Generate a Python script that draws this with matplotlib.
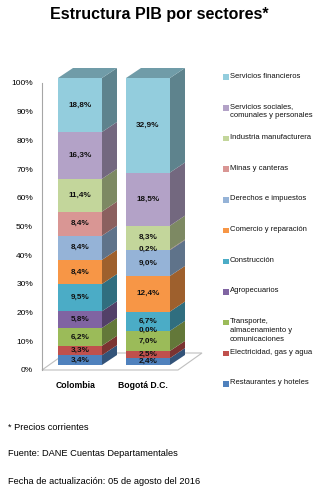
import numpy as np
import matplotlib
matplotlib.use('Agg')
import matplotlib.pyplot as plt
from matplotlib.patches import Polygon, Rectangle
from matplotlib.colors import to_rgb

plt.rcParams['font.family'] = ['Liberation Sans', 'DejaVu Sans']

# datos (de abajo hacia arriba)
regiones = ['Colombia', 'Bogotá D.C.']
sectores = ['Restaurantes y hoteles',
            'Electricidad, gas y agua',
            'Transporte,\nalmacenamiento y\ncomunicaciones',
            'Agropecuarios',
            'Construcción',
            'Comercio y reparación',
            'Derechos e impuestos',
            'Minas y canteras',
            'Industria manufacturera',
            'Servicios sociales,\ncomunales y personales',
            'Servicios financieros']
colombia = [3.4, 3.3, 6.2, 5.8, 9.5, 8.4, 8.4, 8.4, 11.4, 16.3, 18.8]
bogota = [2.4, 2.5, 7.0, 0.0, 6.7, 12.4, 9.0, 0.2, 8.3, 18.5, 32.9]
colores = ['#4F81BD', '#C0504D', '#9BBB59', '#8064A2', '#4BACC6', '#F79646',
           '#95B3D7', '#D99694', '#C3D69B', '#B3A2C7', '#93CDDD']

W, H = 329, 495
fig = plt.figure(figsize=(W / 100, H / 100), dpi=100)

# area del grafico en pixeles
x_ax, y0_px, y100_px, y_top = 42, 370, 83, 60
px_pct = (y0_px - y100_px) / 100.0
px_cat = 68.0
x_cat0 = 80
x_right = 212
ax = fig.add_axes([x_ax / W, (H - y0_px) / H, (x_right - x_ax) / W,
                   (y0_px - y_top) / H])
xmin = (x_ax - x_cat0) / px_cat
ax.set_xlim(xmin, (x_right - x_cat0) / px_cat)
ax.set_ylim(0, (y0_px - y_top) / px_pct)

ancho = 44 / px_cat
dx, dy = 15 / px_cat, 10 / px_pct        # profundidad barra
fdx, fdy = 24 / px_cat, 17 / px_pct      # profundidad piso
lift = 5 / px_pct
floor_right = (178 - x_cat0) / px_cat


def darker(c, f):
    r, g, b = to_rgb(c)
    return (r * f, g * f, b * f)


# piso
ax.add_patch(Polygon([(xmin, 0), (floor_right, 0),
                      (floor_right + fdx, fdy), (xmin + fdx, fdy)],
                     closed=True, facecolor='white', edgecolor='#BFBFBF',
                     linewidth=0.8, clip_on=False, zorder=1))

for i, vals in enumerate([colombia, bogota]):
    vals = np.array(vals)
    pct = vals / vals.sum() * 100
    bottoms = np.concatenate([[0], np.cumsum(pct)[:-1]]) + lift
    ax.bar(i, pct, width=ancho, bottom=bottoms, color=colores,
           linewidth=0, zorder=3)
    x1 = i + ancho / 2
    x0 = i - ancho / 2
    for b, h, c in zip(bottoms, pct, colores):
        t = b + h
        ax.add_patch(Polygon([(x1, b), (x1 + dx, b + dy), (x1 + dx, t + dy),
                              (x1, t)], closed=True, facecolor=darker(c, 0.64),
                             linewidth=0, zorder=2, clip_on=False))
    t = bottoms[-1] + pct[-1]
    ax.add_patch(Polygon([(x0, t), (x1, t), (x1 + dx, t + dy), (x0 + dx, t + dy)],
                         closed=True, facecolor=darker(colores[-1], 0.76),
                         linewidth=0, zorder=2, clip_on=False))
    for b, h, v in zip(bottoms, pct, vals):
        ax.text(i, b + h / 2, ('%.1f%%' % v).replace('.', ','),
                ha='center', va='center', fontsize=5.9, fontweight='bold',
                color='#111111', zorder=4)

ax.set_yticks(np.arange(0, 101, 10))
ax.set_yticklabels(['%d%%' % v for v in range(0, 101, 10)])
ax.set_xticks([-0.06, 0.93])
ax.set_xticklabels(regiones, fontweight='bold')
ax.tick_params(axis='y', length=0, pad=6.5, labelsize=6)
ax.tick_params(axis='x', length=0, pad=8, labelsize=6.2)
for s in ['top', 'right', 'bottom']:
    ax.spines[s].set_visible(False)
ax.spines['left'].set_bounds(0, 100)
ax.spines['left'].set_color('#A6A6A6')
ax.spines['left'].set_linewidth(0.8)
ax.set_facecolor('none')

# leyenda manual
y_ley, paso = 77, 30.7
for k, (nombre, c) in enumerate(zip(sectores[::-1], colores[::-1])):
    yc = y_ley + k * paso
    fig.patches.append(Rectangle((223 / W, (H - yc - 2.8) / H), 5.5 / W, 5.5 / H,
                                 transform=fig.transFigure, facecolor=c,
                                 linewidth=0))
    fig.text(230 / W, (H - yc + 4.5) / H, nombre, ha='left', va='top',
             fontsize=5.5, linespacing=1.4, color='#111111')

fig.text(159 / W, (H - 15) / H, 'Estructura PIB por sectores*', ha='center',
         va='center', fontsize=11.5, fontweight='bold')
notas = ['* Precios corrientes', 'Fuente: DANE Cuentas Departamentales',
         'Fecha de actualización: 05 de agosto del 2016']
for k, n in enumerate(notas):
    fig.text(8 / W, (H - 427 - k * 27) / H, n, ha='left', va='center',
             fontsize=6.7)

fig.savefig('out.png', dpi=100)
